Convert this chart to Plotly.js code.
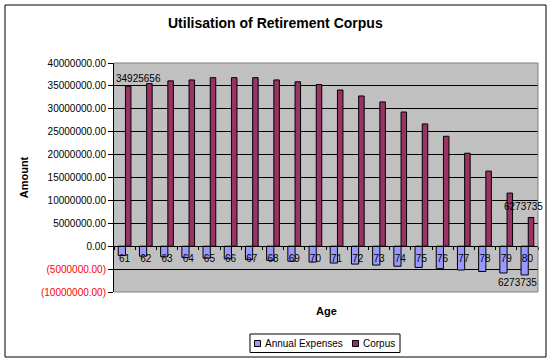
<!DOCTYPE html>
<html>
<head>
<meta charset="utf-8">
<script src="https://cdn.plot.ly/plotly-3.0.1.min.js"></script>
<style>html,body{margin:0;padding:0;background:#fff}#chart{width:554px;height:364px}</style>
</head>
<body>
<div id="chart"></div>
<script>
// ---- data ----
var ages = ["61","62","63","64","65","66","67","68","69","70","71","72","73","74","75","76","77","78","79","80"];
var annualExpenses = [-2050000,-2180000,-2300000,-2450000,-2600000,-2750000,-2920000,-3100000,-3280000,-3470000,
                      -3680000,-3900000,-4120000,-4370000,-4630000,-4900000,-5200000,-5520000,-5850000,-6273735];
var corpus = [34925656,35500000,36100000,36300000,36800000,36800000,36800000,36300000,35900000,35300000,
              34100000,32800000,31500000,29300000,26700000,24000000,20300000,16400000,11600000,6273735];
var yTickVals = [40000000,35000000,30000000,25000000,20000000,15000000,10000000,5000000,0,-5000000,-10000000];
var yTickLabels = ["40000000.00","35000000.00","30000000.00","25000000.00","20000000.00","15000000.00",
                   "10000000.00","5000000.00","0.00","(5000000.00)","(10000000.00)"];
var seriesNames = ["Annual Expenses","Corpus"];
var seriesColors = ["#9999FF","#993366"];

var yMin = -10000000, yMax = 40000000;
var tickText = yTickLabels.map(function(t, i){
  return yTickVals[i] < 0 ? '<span style="color:#FF0000">' + t + '</span>' : t;
});
var font = {family: 'Arial, "Liberation Sans", sans-serif', size: 10, color: '#000'};

var traces = [
  {type:'bar', name:seriesNames[0], x:ages, y:annualExpenses, width:0.34, offset:-0.30,
   marker:{color:seriesColors[0], line:{color:'#000', width:1}}, hoverinfo:'x+y'},
  {type:'bar', name:seriesNames[1], x:ages, y:corpus, width:0.26, offset:0.04,
   marker:{color:seriesColors[1], line:{color:'#000', width:1}}, hoverinfo:'x+y'}
];

var last = ages.length - 1;
// pixel -> paper helpers for elements placed outside the plot area (plot: x 114..538, y 63..292)
var ML = 114, PW = 424, PB = 292, PH = 229;
function xp(px){ return (px - ML) / PW; }
function yp(py){ return (PB - py) / PH; }

var legendShapes = [
  {type:'rect', xref:'paper', yref:'paper', x0:xp(250), x1:xp(400), y0:yp(352.5), y1:yp(334),
   line:{color:'#000', width:1}, fillcolor:'#FFFFFF', layer:'above'},
  {type:'rect', xref:'paper', yref:'paper', x0:xp(254.5), x1:xp(260.5), y0:yp(346.5), y1:yp(340.5),
   line:{color:'#000', width:1}, fillcolor:seriesColors[0], layer:'above'},
  {type:'rect', xref:'paper', yref:'paper', x0:xp(352.5), x1:xp(358.5), y0:yp(346.5), y1:yp(340.5),
   line:{color:'#000', width:1}, fillcolor:seriesColors[1], layer:'above'}
];

var layout = {
  width:554, height:364,
  margin:{l:ML, r:554 - ML - PW, t:63, b:364 - PB, pad:0, autoexpand:false},
  paper_bgcolor:'#FFFFFF', plot_bgcolor:'#C0C0C0',
  font: font,
  showlegend:false,
  barmode:'overlay',
  title:{text:'<b>Utilisation of Retirement Corpus</b>', font:{family:font.family, size:14, color:'#000'},
         x:0.497, xref:'container', xanchor:'center', y:1-23/364, yref:'container', yanchor:'middle'},
  xaxis:{type:'category', categoryorder:'array', categoryarray:ages, range:[-0.5, ages.length - 0.5],
         anchor:'free', position:(0 - yMin)/(yMax - yMin), automargin:false,
         showline:true, linecolor:'#000', linewidth:1, showgrid:false, zeroline:false,
         ticks:'outside', tickson:'boundaries', ticklen:3, tickcolor:'#000', ticklabelstandoff:3,
         tickfont:font, fixedrange:true},
  yaxis:{range:[yMin, yMax], tickvals:yTickVals, ticktext:tickText,
         showline:true, linecolor:'#000', linewidth:1, ticks:'outside', ticklen:5, tickcolor:'#000',
         showgrid:true, gridcolor:'#000', gridwidth:1, zeroline:true, zerolinecolor:'#000', zerolinewidth:1,
         tickfont:font, automargin:false,
         title:{text:'<b>Amount</b>', font:{family:font.family, size:11, color:'#000'}, standoff:10}},
  annotations:[
    {text:'<b>Age</b>', xref:'paper', yref:'paper', x:0.5, y:yp(311), xanchor:'center', yanchor:'middle',
     showarrow:false, font:{family:font.family, size:11, color:'#000'}},
    {text:String(corpus[0]), x:0, y:corpus[0], xref:'x', yref:'y', xanchor:'center', yanchor:'bottom',
     xshift:14, yshift:0, showarrow:false, font:font},
    {text:String(corpus[last]), x:last, y:corpus[last], xref:'x', yref:'y', xanchor:'center', yanchor:'bottom',
     xshift:-4, yshift:3, showarrow:false, font:font},
    {text:String(Math.abs(annualExpenses[last])), x:last, y:annualExpenses[last], xref:'x', yref:'y',
     xanchor:'center', yanchor:'top', xshift:-10, yshift:0, showarrow:false, font:font},
    {text:seriesNames[0], xref:'paper', yref:'paper', x:xp(263), y:yp(343.5), xanchor:'left', yanchor:'middle',
     showarrow:false, font:font},
    {text:seriesNames[1], xref:'paper', yref:'paper', x:xp(360.5), y:yp(343.5), xanchor:'left', yanchor:'middle',
     showarrow:false, font:font}
  ],
  shapes:[
    {type:'path', xref:'paper', yref:'paper', path:'M0,1 L1,1 L1,0 L0,0', line:{color:'#808080', width:1}, layer:'above'},
    {type:'rect', xref:'paper', yref:'paper', x0:xp(5), x1:xp(546), y0:yp(357), y1:yp(5),
     line:{color:'#000', width:1}, fillcolor:'rgba(0,0,0,0)', layer:'above'}
  ].concat(legendShapes)
};

Plotly.newPlot('chart', traces, layout, {staticPlot:true, displayModeBar:false});
</script>
</body>
</html>
